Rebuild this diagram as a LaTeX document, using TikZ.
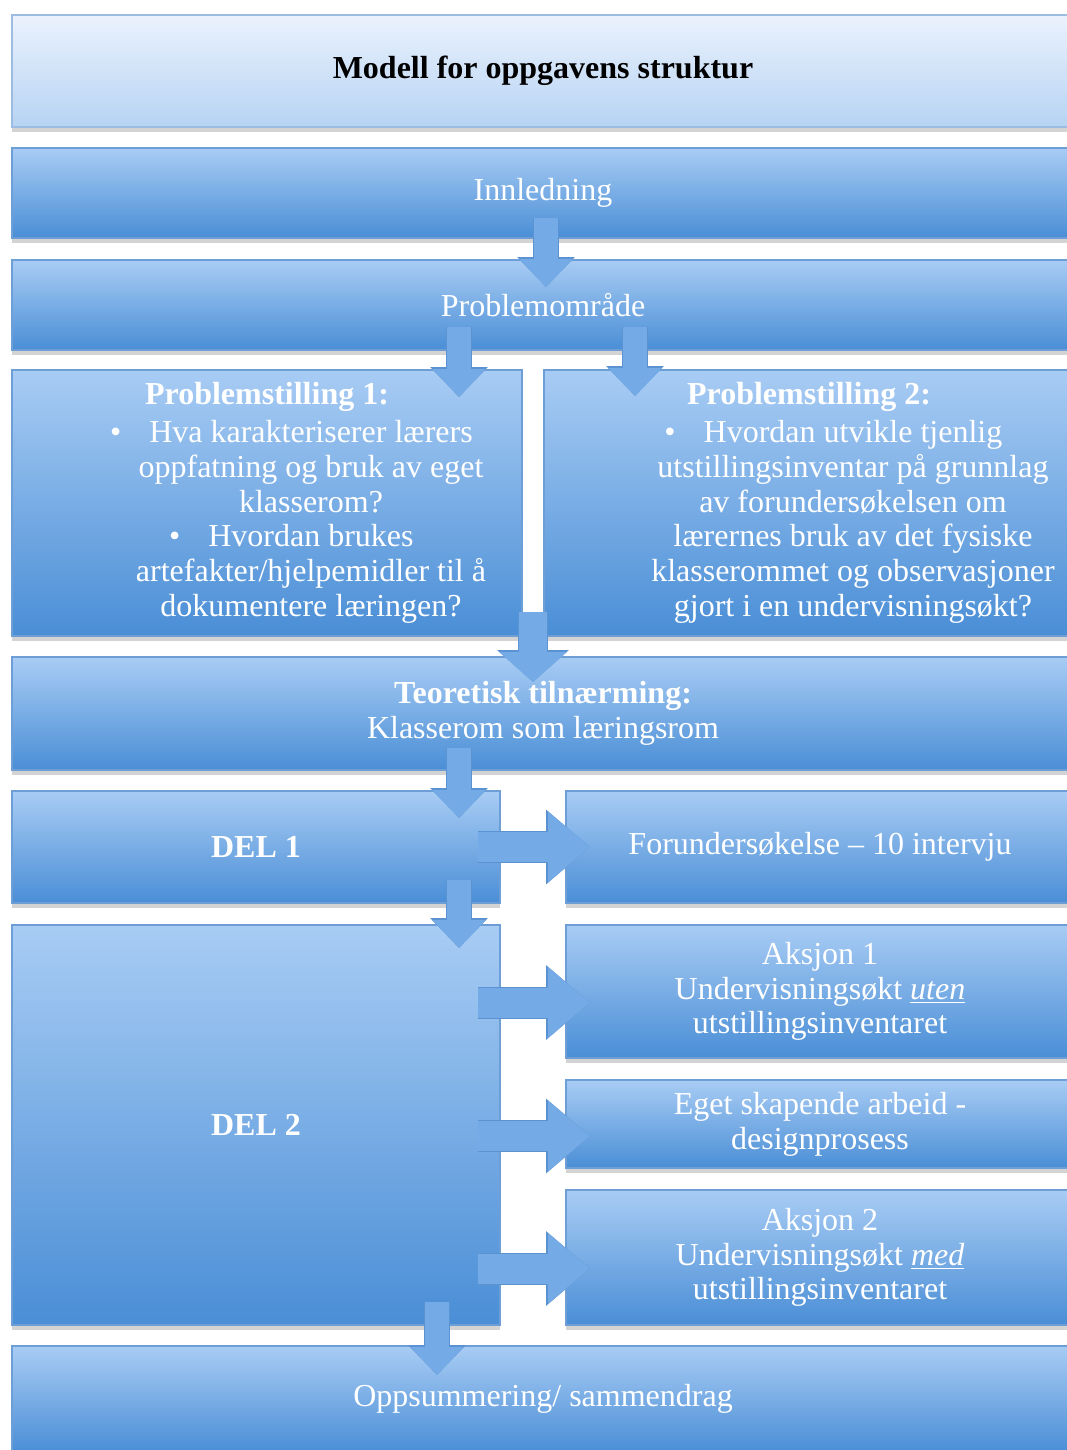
\documentclass[tikz,border=0pt]{standalone}
\usepackage{fontspec}
\setmainfont{Liberation Serif}
\usetikzlibrary{positioning, shadows, arrows.meta}

\definecolor{boxtop}{HTML}{A8CCF4}
\definecolor{boxbot}{HTML}{4A8ED6}
\definecolor{boxedge}{HTML}{6D9ED6}
\definecolor{titletop}{HTML}{EBF2FD}
\definecolor{titlebot}{HTML}{B6D3F3}
\definecolor{titleedge}{HTML}{9DBCE2}
\definecolor{arrowfill}{HTML}{74AAE5}
\definecolor{arrowedge}{HTML}{5A92D2}

\newcommand{\shiftin}{\hspace*{44pt}}
\newcommand{\itemmark}{\llap{\textbullet\hspace{14pt}}}

\tikzset{
  basebox/.style={inner sep=0pt, outer sep=0pt, line width=0.6pt, align=center,
    drop shadow={shadow xshift=0pt, shadow yshift=-2.5pt, opacity=0.35},
    font=\fontsize{16}{17.4}\selectfont},
  titlebox/.style={basebox, draw=titleedge, top color=titletop, bottom color=titlebot,
    text=black, font=\fontsize{16}{17.4}\selectfont\bfseries},
  bluebox/.style={basebox, draw=boxedge, top color=boxtop, bottom color=boxbot, text=white},
  flow/.style={draw=arrowfill, line width=12pt, -{Triangle[width=26pt,length=14pt]},
    preaction={draw=arrowedge, line width=13pt, -{Triangle[width=28pt,length=15pt]}}},
  bigflow/.style={draw=arrowfill, line width=14pt, -{Triangle[width=33pt,length=15pt]},
    preaction={draw=arrowedge, line width=15pt, -{Triangle[width=35pt,length=16pt]}}},
  sideflow/.style={draw=arrowfill, line width=15pt, -{Triangle[width=34pt,length=21pt]},
    preaction={draw=arrowedge, line width=16pt, -{Triangle[width=36pt,length=22pt]}}}
}

\begin{document}
\begin{tikzpicture}[x=0.5pt, y=-0.5pt]
  \useasboundingbox (0,0) rectangle (1066,1450);
  % boxes
  \node[titlebox, minimum width=531pt, minimum height=56pt] (title) at (543,71) {Modell for oppgavens struktur};
  \node[bluebox, minimum width=531pt, minimum height=45pt] (inn) at (543,193) {Innledning};
  \node[bluebox, minimum width=531pt, minimum height=45pt] (prob) at (543,305) {Problemområde};
  \node[bluebox, minimum width=255pt, minimum height=133pt] (ps1) at (267,503)
    {\textbf{Problemstilling 1:}\\[1.5pt]
     \shiftin\itemmark Hva karakteriserer lærers\\
     \shiftin oppfatning og bruk av eget\\
     \shiftin klasserom?\\
     \shiftin\itemmark Hvordan brukes\\
     \shiftin artefakter/hjelpemidler til å\\
     \shiftin dokumentere læringen?};
  \node[bluebox, minimum width=265pt, minimum height=133pt] (ps2) at (809,503)
    {\textbf{Problemstilling 2:}\\[1.5pt]
     \shiftin\itemmark Hvordan utvikle tjenlig\\
     \shiftin utstillingsinventar på grunnlag\\
     \shiftin av forundersøkelsen om\\
     \shiftin lærernes bruk av det fysiske\\
     \shiftin klasserommet og observasjoner\\
     \shiftin gjort i en undervisningsøkt?};
  \node[bluebox, minimum width=531pt, minimum height=56.5pt] (teo) at (543,713.5)
    {\textbf{Teoretisk tilnærming:}\\Klasserom som læringsrom};
  \node[bluebox, minimum width=244pt, minimum height=56pt] (del1) at (256,847) {\textbf{DEL 1}};
  \node[bluebox, minimum width=254pt, minimum height=56pt] (fu) at (820,847) {Forundersøkelse – 10 intervju};
  \node[bluebox, minimum width=244pt, minimum height=200pt] (del2) at (256,1125) {\textbf{DEL 2}};
  \node[bluebox, minimum width=254pt, minimum height=66.5pt] (aks1) at (820,991.5)
    {Aksjon 1\\Undervisningsøkt \underline{\textit{uten}}\\utstillingsinventaret};
  \node[bluebox, minimum width=254pt, minimum height=44pt] (eget) at (820,1124)
    {Eget skapende arbeid -\\designprosess};
  \node[bluebox, minimum width=254pt, minimum height=67.5pt] (aks2) at (820,1257.5)
    {Aksjon 2\\Undervisningsøkt \underline{\textit{med}}\\utstillingsinventaret};
  \node[bluebox, minimum width=531pt, minimum height=53pt] (opp) at (543,1399) {Oppsummering/ sammendrag};
  % arrows
  \draw[flow] ([xshift=1.5pt,yshift=10pt]inn.south) -- ([xshift=1.5pt,yshift=-13.5pt]prob.north);
  \draw[flow] ([xshift=-42pt,yshift=11.5pt]prob.south) -- ([xshift=96pt,yshift=-13.5pt]ps1.north);
  \draw[flow] ([xshift=46pt,yshift=11.5pt]prob.south) -- ([xshift=-87pt,yshift=-13pt]ps2.north);
  \draw[bigflow] ([xshift=5.5pt,yshift=12pt]ps1.south east) -- ([xshift=-5pt,yshift=-12.5pt]teo.north);
  \draw[flow] ([xshift=-42pt,yshift=11pt]teo.south) -- ([xshift=101.5pt,yshift=-13.5pt]del1.north);
  \draw[flow] ([xshift=101.5pt,yshift=11.5pt]del1.south) -- ([xshift=101.5pt,yshift=-11.5pt]del2.north);
  \draw[flow] ([xshift=90.5pt,yshift=11.5pt]del2.south) -- ([xshift=-53pt,yshift=-14.5pt]opp.north);
  \draw[sideflow] ([xshift=-11pt]del1.east) -- ([xshift=12pt]fu.west);
  \draw[sideflow] ([xshift=-11pt,yshift=-5.5pt]aks1.west -| del2.east) -- ([xshift=12pt,yshift=-5.5pt]aks1.west);
  \draw[sideflow] ([xshift=-11pt,yshift=-6pt]eget.west -| del2.east) -- ([xshift=12pt,yshift=-6pt]eget.west);
  \draw[sideflow] ([xshift=-11pt,yshift=-5.5pt]aks2.west -| del2.east) -- ([xshift=12pt,yshift=-5.5pt]aks2.west);
\end{tikzpicture}
\end{document}
